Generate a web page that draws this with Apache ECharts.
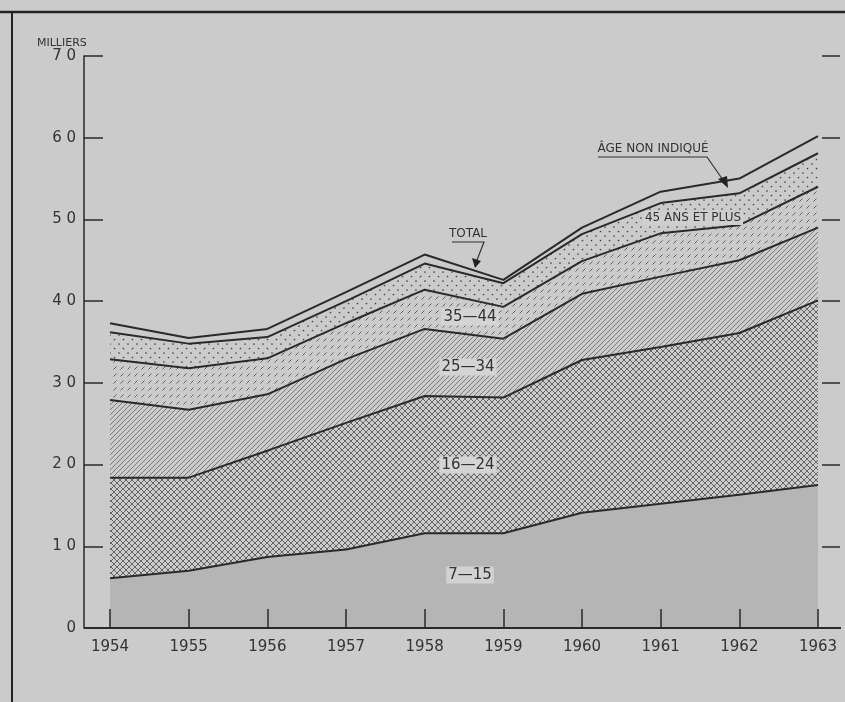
<!DOCTYPE html>
<html>
<head>
<meta charset="utf-8">
<script src="https://cdn.jsdelivr.net/npm/echarts@6/dist/echarts.min.js"></script>
<style>
html,body{margin:0;padding:0;background:#cbcbcb;}
#chart{width:845px;height:702px;}
</style>
</head>
<body>
<div id="chart"></div>
<script>
// Years (x axis)
const years = ['1954', '1955', '1956', '1957', '1958', '1959', '1960', '1961', '1962', '1963'];
// Thousands of persons by age group
const age7_15   = [6.1, 7.0, 8.7, 9.6, 11.6, 11.6, 14.1, 15.2, 16.3, 17.5];
const age16_24  = [12.3, 11.4, 13.0, 15.5, 16.8, 16.6, 18.7, 19.2, 19.8, 22.6];
const age25_34  = [9.5, 8.3, 6.9, 7.8, 8.2, 7.2, 8.1, 8.6, 8.9, 8.9];
const age35_44  = [5.0, 5.1, 4.4, 4.4, 4.8, 3.9, 4.0, 5.3, 4.3, 5.0];
const age45plus = [3.3, 3.0, 2.6, 2.7, 3.2, 2.9, 3.3, 3.7, 3.9, 4.1];
const ageUnknown = [1.1, 0.7, 1.0, 1.1, 1.1, 0.4, 0.8, 1.4, 1.8, 2.1];

const INK = '#2a2a2a';
const BG = '#cbcbcb';

function tile(w, h, stroke, draw) {
  const c = document.createElement('canvas');
  c.width = w; c.height = h;
  const g = c.getContext('2d');
  g.strokeStyle = stroke;
  g.fillStyle = stroke;
  draw(g, w, h);
  return { image: c, repeat: 'repeat' };
}
function seg(g, x1, y1, x2, y2) { g.beginPath(); g.moveTo(x1, y1); g.lineTo(x2, y2); g.stroke(); }

const crossHatch = tile(6, 6, '#4a4a4a', (g, w, h) => {
  g.lineWidth = 0.8;
  seg(g, -1, h + 1, w + 1, -1);
  seg(g, -1, -1, w + 1, h + 1);
});
const diagHatch = tile(5, 5, '#5a5a5a', (g, w, h) => {
  g.lineWidth = 0.7;
  seg(g, -1, h + 1, w + 1, -1);
  seg(g, -1, 1, 1, -1);
  seg(g, w - 1, h + 1, w + 1, h - 1);
});
const dashHatch = tile(7, 7, '#555', (g) => {
  g.lineWidth = 0.9;
  seg(g, 1.5, 5.5, 4.5, 2.5);
});
const dots = tile(9, 9, '#444', (g) => {
  g.beginPath(); g.arc(2, 2, 0.85, 0, Math.PI * 2); g.fill();
  g.beginPath(); g.arc(6.5, 6.5, 0.85, 0, Math.PI * 2); g.fill();
});

function mk(name, arr, fill) {
  return {
    name: name,
    type: 'line',
    stack: 'total',
    symbol: 'none',
    data: arr,
    lineStyle: { color: INK, width: 2 },
    areaStyle: fill ? { color: fill, opacity: 1 } : { opacity: 0 },
    z: 2
  };
}

const chart = echarts.init(document.getElementById('chart'), null, { renderer: 'canvas' });

const labelFont = { fontFamily: 'DejaVu Sans', color: '#333', fontSize: 15 };

chart.setOption({
  backgroundColor: BG,
  animation: false,
  grid: { left: 110, right: 27, top: 56, bottom: 74 },
  xAxis: {
    type: 'category',
    data: years,
    boundaryGap: false,
    z: 10,
    axisLine: { show: false },
    axisTick: { show: true, inside: true, length: 19, interval: 0, lineStyle: { color: INK, width: 1.5 } },
    axisLabel: Object.assign({ interval: 0, margin: 12 }, labelFont),
    splitLine: { show: false }
  },
  yAxis: [{
    type: 'value',
    min: 0, max: 70, interval: 10,
    offset: 26,
    z: 10,
    axisLine: { show: true, lineStyle: { color: INK, width: 1.5 } },
    axisTick: { show: true, inside: true, length: 19, lineStyle: { color: INK, width: 1.5 } },
    axisLabel: Object.assign({ formatter: v => String(v).split('').join(' '), margin: 8 }, labelFont),
    splitLine: { show: false }
  }, {
    type: 'value',
    position: 'right',
    offset: 22,
    min: 0, max: 70, interval: 10,
    z: 10,
    axisLine: { show: false },
    axisTick: { show: true, inside: true, length: 18, lineStyle: { color: INK, width: 1.5 } },
    axisLabel: { show: false },
    splitLine: { show: false }
  }],
  series: [
    mk('7-15', age7_15, '#b5b5b5'),
    mk('16-24', age16_24, crossHatch),
    mk('25-34', age25_34, diagHatch),
    mk('35-44', age35_44, dashHatch),
    mk('45 ans et plus', age45plus, dots),
    mk('Âge non indiqué', ageUnknown, null)
  ],
  graphic: [
    { type: 'line', shape: { x1: 0, y1: 12, x2: 845, y2: 12 }, style: { stroke: '#222', lineWidth: 2.5 } },
    { type: 'line', shape: { x1: 12, y1: 12, x2: 12, y2: 702 }, style: { stroke: '#222', lineWidth: 2 } },
    { type: 'line', shape: { x1: 84, y1: 628, x2: 841, y2: 628 }, style: { stroke: INK, lineWidth: 2 }, z: 5 },
    { type: 'text', left: 37, top: 38, style: { text: 'MILLIERS', fontSize: 11, fontFamily: 'DejaVu Sans', fill: '#333' } },
    // annotations
    { type: 'text', x: 468, y: 234, style: { text: 'TOTAL', fontSize: 12, fontFamily: 'DejaVu Sans', fill: '#333', align: 'center', verticalAlign: 'middle' }, z: 10 },
    { type: 'polyline', shape: { points: [[452, 242], [484, 242], [477, 260]] }, style: { stroke: '#333', lineWidth: 1.2, fill: null }, z: 10 },
    { type: 'polygon', shape: { points: [[472, 258], [481, 261], [475, 268]] }, style: { fill: '#222' }, z: 10 },
    { type: 'text', x: 470, y: 317, style: { text: '35—44', fontSize: 15, fontFamily: 'DejaVu Sans', fill: '#333', align: 'center', verticalAlign: 'middle', backgroundColor: '#d4d4d4', padding: [1, 2] }, z: 10 },
    { type: 'text', x: 468, y: 367, style: { text: '25—34', fontSize: 15, fontFamily: 'DejaVu Sans', fill: '#333', align: 'center', verticalAlign: 'middle', backgroundColor: '#d4d4d4', padding: [1, 2] }, z: 10 },
    { type: 'text', x: 468, y: 465, style: { text: '16—24', fontSize: 15, fontFamily: 'DejaVu Sans', fill: '#333', align: 'center', verticalAlign: 'middle', backgroundColor: '#d4d4d4', padding: [1, 2] }, z: 10 },
    { type: 'text', x: 470, y: 575, style: { text: '7—15', fontSize: 15, fontFamily: 'DejaVu Sans', fill: '#333', align: 'center', verticalAlign: 'middle', backgroundColor: '#d2d2d2', padding: [1, 2] }, z: 10 },
    { type: 'text', x: 653, y: 149, style: { text: 'ÂGE NON INDIQUÉ', fontSize: 12, fontFamily: 'DejaVu Sans', fill: '#333', align: 'center', verticalAlign: 'middle' }, z: 10 },
    { type: 'polyline', shape: { points: [[598, 157], [707, 157], [723, 180]] }, style: { stroke: '#333', lineWidth: 1.2, fill: null }, z: 10 },
    { type: 'polygon', shape: { points: [[718, 179], [727, 176], [728, 188]] }, style: { fill: '#222' }, z: 10 },
    { type: 'text', x: 693, y: 218, style: { text: '45 ANS ET PLUS', fontSize: 12, fontFamily: 'DejaVu Sans', fill: '#333', align: 'center', verticalAlign: 'middle', backgroundColor: '#cfcfcf', padding: [1, 2] }, z: 10 }
  ]
});
</script>
</body>
</html>
